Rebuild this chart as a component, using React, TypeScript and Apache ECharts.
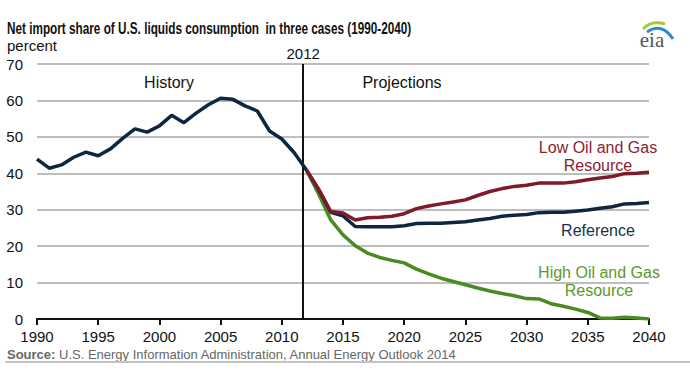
import React, { useEffect, useRef } from "react";
import * as echarts from "echarts";

const historyYears = [1990,1991,1992,1993,1994,1995,1996,1997,1998,1999,2000,2001,2002,2003,2004,2005,2006,2007,2008,2009,2010,2011,2012];
const historyValues = [43.9,41.4,42.3,44.4,45.8,44.8,46.7,49.6,52.2,51.3,53.0,55.9,53.9,56.5,58.8,60.6,60.3,58.5,57.1,51.6,49.4,45.7,41.0];

const projYears = [2012,2013,2014,2015,2016,2017,2018,2019,2020,2021,2022,2023,2024,2025,2026,2027,2028,2029,2030,2031,2032,2033,2034,2035,2036,2037,2038,2039,2040];
const referenceValues = [41.0,35.5,29.3,28.3,25.4,25.3,25.3,25.3,25.6,26.2,26.3,26.3,26.5,26.7,27.2,27.6,28.2,28.5,28.7,29.2,29.3,29.3,29.6,29.9,30.4,30.8,31.6,31.7,32.0];
const lowResourceValues = [41.0,35.7,29.5,29.1,27.2,27.8,27.9,28.2,28.9,30.3,31.0,31.6,32.1,32.7,33.9,35.0,35.8,36.4,36.7,37.3,37.3,37.3,37.7,38.2,38.7,39.1,39.9,40.0,40.3];
const highResourceValues = [41.0,34.4,27.2,23.1,20.1,18.1,16.9,16.1,15.4,13.7,12.4,11.2,10.3,9.4,8.5,7.7,7.0,6.4,5.6,5.5,4.2,3.5,2.7,1.8,0.3,0.2,0.5,0.3,0.0];

const xTicks = [1990,1995,2000,2005,2010,2015,2020,2025,2030,2035,2040];
const yTicks = [0,10,20,30,40,50,60,70];

const FONT = "'Liberation Sans', Arial, sans-serif";

const pair = (xs: number[], ys: number[]) => xs.map((x, i) => [x, ys[i]]);

export default function App() {
  const ref = useRef<HTMLDivElement>(null);
  useEffect(() => {
    if (!ref.current) return;
    const chart = echarts.init(ref.current, null, { renderer: "svg" });
    const navy = "#0f2640";
    const red = "#7f1a2a";
    const green = "#4b8a22";
    chart.setOption({
      animation: false,
      backgroundColor: "#ffffff",
      grid: { left: 37, right: 41, top: 64, bottom: 57, containLabel: false },
      xAxis: {
        type: "value",
        min: xTicks[0],
        max: xTicks[xTicks.length - 1],
        interval: 5,
        axisLine: { show: true, lineStyle: { color: "#111", width: 2 } },
        axisTick: { show: true, length: 6, lineStyle: { color: "#111", width: 2 } },
        splitLine: { show: false },
        axisLabel: { color: "#111", fontSize: 15, fontFamily: FONT, margin: 10, formatter: (v: number) => String(v) },
      },
      yAxis: {
        type: "value",
        min: yTicks[0],
        max: yTicks[yTicks.length - 1],
        interval: 10,
        axisLine: { show: false },
        axisTick: { show: false },
        splitLine: { show: true, lineStyle: { color: "#a8a8a8", width: 1.5 } },
        axisLabel: { color: "#111", fontSize: 15, fontFamily: FONT, margin: 14 },
      },
      series: [
        {
          type: "line",
          name: "High Oil and Gas Resource",
          data: pair(projYears, highResourceValues),
          showSymbol: false,
          lineStyle: { color: green, width: 3.5 },
          z: 2,
        },
        {
          type: "line",
          name: "Reference",
          data: pair(projYears, referenceValues),
          showSymbol: false,
          lineStyle: { color: navy, width: 3.5 },
          z: 3,
        },
        {
          type: "line",
          name: "Low Oil and Gas Resource",
          data: pair(projYears, lowResourceValues),
          showSymbol: false,
          lineStyle: { color: red, width: 3.5 },
          z: 4,
        },
        {
          type: "line",
          name: "History",
          data: pair(historyYears, historyValues),
          showSymbol: false,
          lineStyle: { color: navy, width: 3.5 },
          z: 5,
          markLine: {
            silent: true,
            symbol: "none",
            lineStyle: { color: "#111", width: 2, type: "solid" },
            label: { show: true, position: "end", formatter: "2012", color: "#111", fontSize: 15, fontFamily: FONT, distance: 3 },
            data: [{ xAxis: 2011.75 }],
          },
        },
      ],
      graphic: [
        { type: "text", x: 7, y: 28, scaleX: 0.735, style: { text: "Net import share of U.S. liquids consumption  in three cases (1990-2040)", fill: "#111", font: `bold 16px ${FONT}`, verticalAlign: "middle" } },
        { type: "text", x: 7, y: 45, style: { text: "percent", fill: "#111", font: `15px ${FONT}`, verticalAlign: "middle" } },
        { type: "text", x: 169, y: 82, style: { text: "History", fill: "#111", font: `16px ${FONT}`, align: "center", verticalAlign: "middle" } },
        { type: "text", x: 402, y: 82, style: { text: "Projections", fill: "#111", font: `16px ${FONT}`, align: "center", verticalAlign: "middle" } },
        { type: "text", x: 598, y: 156, style: { text: "Low Oil and Gas\nResource", fill: "#8a2232", font: `16px ${FONT}`, align: "center", verticalAlign: "middle", lineHeight: 18 } },
        { type: "text", x: 598, y: 230, style: { text: "Reference", fill: "#1a3050", font: `16px ${FONT}`, align: "center", verticalAlign: "middle" } },
        { type: "text", x: 599, y: 281, style: { text: "High Oil and Gas\nResource", fill: "#5a9a28", font: `16px ${FONT}`, align: "center", verticalAlign: "middle", lineHeight: 18 } },
        {
          type: "text", x: 7, y: 354,
          style: {
            text: "{b|Source:} U.S. Energy Information Administration, Annual Energy Outlook 2014",
            fill: "#666", font: `13px ${FONT}`, verticalAlign: "middle",
            rich: { b: { fill: "#666", font: `bold 13px ${FONT}` } },
          },
        },
        { type: "line", shape: { x1: 5, y1: 362, x2: 690, y2: 362 }, style: { stroke: "#c4c4c4", lineWidth: 2 } },
        { type: "bezierCurve", shape: { x1: 643, y1: 29, cpx1: 651, cpy1: 20, x2: 665, y2: 24 }, style: { stroke: "#a8c83a", lineWidth: 3, fill: null } },
        { type: "bezierCurve", shape: { x1: 647, y1: 32, cpx1: 662, cpy1: 22, x2: 673, y2: 39 }, style: { stroke: "#2a8fc8", lineWidth: 3, fill: null } },
        { type: "text", x: 652, y: 40, style: { text: "eia", fill: "#555", font: "21px 'Liberation Serif', 'DejaVu Serif', serif", align: "center", verticalAlign: "middle" } },
      ],
    });
    return () => chart.dispose();
  }, []);
  return <div ref={ref} style={{ width: 690, height: 376, position: "absolute", left: 0, top: 0 }} />;
}
